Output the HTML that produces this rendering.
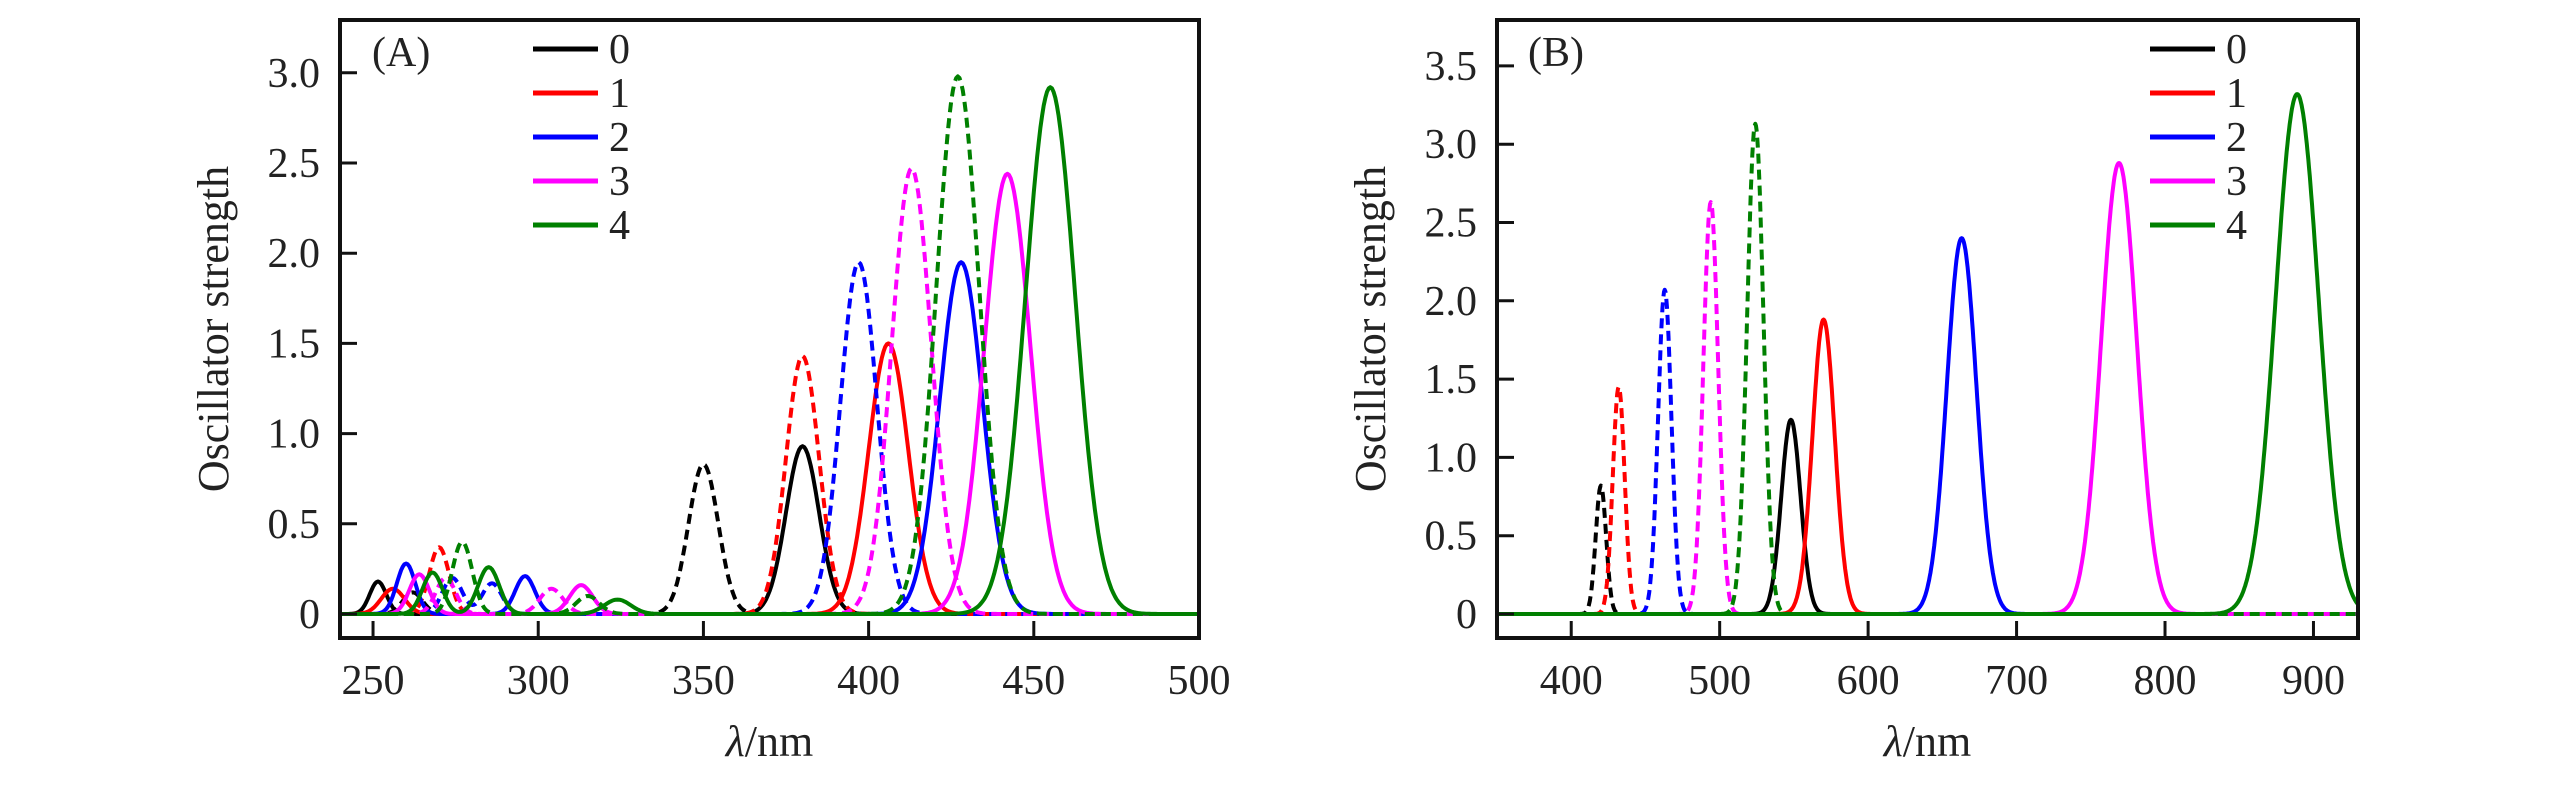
<!DOCTYPE html>
<html><head><meta charset="utf-8">
<style>
html,body{margin:0;padding:0;background:#fff;}
svg{display:block;font-family:"Liberation Serif",serif;}
</style></head>
<body>
<svg id="chart" width="2567" height="787" viewBox="0 0 2567 787" xmlns="http://www.w3.org/2000/svg"></svg>
<script>
const seriesLabels = ["0","1","2","3","4"];
const seriesColors = ["#000000","#ff0000","#0000ff","#ff00ff","#008000"];
// Panel A peaks: [center nm, height, width nm]
const aSolid0 = [[251.5,0.18,2.5],[380,0.93,5]];
const aSolid1 = [[256,0.14,3.5],[406,1.5,6]];
const aSolid2 = [[260,0.28,2.8],[296,0.21,3],[428,1.95,6.5]];
const aSolid3 = [[264,0.22,3],[313,0.16,3.5],[442,2.44,7]];
const aSolid4 = [[268,0.23,3],[285,0.26,3.2],[324,0.08,4],[455,2.92,7.5]];
const aDash0 = [[262,0.12,3],[350,0.83,4.5]];
const aDash1 = [[270,0.37,3],[380,1.43,5]];
const aDash2 = [[274,0.2,3],[286,0.17,3],[397,1.95,5.5]];
const aDash3 = [[272,0.2,3],[304,0.14,3.5],[413,2.47,6]];
const aDash4 = [[277,0.40,3],[315,0.1,3.5],[427,2.98,6.5]];
// Panel B peaks
const bSolid0 = [[548,1.24,6.5]];
const bSolid1 = [[570,1.88,7.5]];
const bSolid2 = [[663,2.4,10]];
const bSolid3 = [[769,2.88,12]];
const bSolid4 = [[889,3.32,14.5]];
const bDash0 = [[420,0.82,3.5]];
const bDash1 = [[432,1.45,4]];
const bDash2 = [[463,2.07,4.5]];
const bDash3 = [[494,2.63,5]];
const bDash4 = [[524,3.13,5.5]];
const aXTicks = [250,300,350,400,450,500];
const aYTicks = [0,0.5,1.0,1.5,2.0,2.5,3.0];
const bXTicks = [400,500,600,700,800,900];
const bYTicks = [0,0.5,1.0,1.5,2.0,2.5,3.0,3.5];

const NS="http://www.w3.org/2000/svg";
const svg=document.getElementById('chart');
function mk(tag,attrs,parent){const e=document.createElementNS(NS,tag);for(const k in attrs)e.setAttribute(k,attrs[k]);(parent||svg).appendChild(e);return e;}

function panel(cfg){
  const g=mk('g',{});
  
  
  const sx=v=>cfg.L+(v-cfg.xmin)/(cfg.xmax-cfg.xmin)*(cfg.R-cfg.L);
  const sy=v=>cfg.y0-v*cfg.ppu;
  const clipId=cfg.name+'-clip';
  const cp=mk('clipPath',{id:clipId},g);
  mk('rect',{x:cfg.L,y:cfg.T,width:cfg.R-cfg.L,height:cfg.B-cfg.T},cp);
  const cg=mk('g',{'clip-path':'url(#'+clipId+')'},g);
  for(let i=0;i<5;i++){
    [['dash',cfg.dash[i]],['solid',cfg.solid[i]]].forEach(([kind,peaks])=>{
      let d='';
      for(let x=cfg.xmin;x<=cfg.xmax+0.01;x+=0.5){
        let y=0;peaks.forEach(p=>{y+=p[1]*Math.exp(-((x-p[0])**2)/(2*p[2]*p[2]));});
        d+=(d?'L':'M')+sx(x).toFixed(1)+' '+sy(y).toFixed(1);
      }
      const p=mk('path',{d:d,fill:'none',stroke:seriesColors[i],'stroke-width':4,'stroke-linejoin':'round'},cg);
      if(kind==='dash')p.setAttribute('stroke-dasharray','10 6');
      
      
    });
  }
  const fr=mk('rect',{x:cfg.L,y:cfg.T,width:cfg.R-cfg.L,height:cfg.B-cfg.T,fill:'none',stroke:'#111','stroke-width':4},g);
  
  
  cfg.xt.forEach(v=>{
    const t=mk('line',{x1:sx(v),x2:sx(v),y1:cfg.B,y2:cfg.B-17,stroke:'#111','stroke-width':3},g);
    
    
    const l=mk('text',{x:sx(v),y:cfg.B+56,'font-size':42,'text-anchor':'middle',fill:'#222'},g);
    l.textContent=v;
    
    
  });
  cfg.yt.forEach(v=>{
    const t=mk('line',{x1:cfg.L,x2:cfg.L+17,y1:sy(v),y2:sy(v),stroke:'#111','stroke-width':3},g);
    
    
    const l=mk('text',{x:cfg.L-20,y:sy(v)+14,'font-size':42,'text-anchor':'end',fill:'#222'},g);
    l.textContent=v===0?'0':v.toFixed(1);
    
    
  });
  const yt=mk('text',{x:0,y:0,'font-size':44,'text-anchor':'middle',fill:'#222',transform:'translate('+cfg.ytx+','+((cfg.T+cfg.B)/2)+') rotate(-90)'},g);
  yt.textContent='Oscillator strength';
  
  
  const xt=mk('text',{x:(cfg.L+cfg.R)/2,y:756,'font-size':44,'text-anchor':'middle',fill:'#222'},g);
  xt.innerHTML='<tspan font-style="italic">λ</tspan>/nm';
  
  
  const pl=mk('text',{x:cfg.plx,y:66,'font-size':42,fill:'#222'},g);
  pl.textContent=cfg.tag;
  
  
  for(let i=0;i<5;i++){
    const y=49+i*44;
    const ll=mk('line',{x1:cfg.lgx,x2:cfg.lgx+65,y1:y,y2:y,stroke:seriesColors[i],'stroke-width':5},g);
    
    
    const lt=mk('text',{x:cfg.lgx+76,y:y+14,'font-size':42,fill:'#222'},g);
    lt.textContent=seriesLabels[i];
    
    
  }
}
panel({name:'panel-a',tag:'(A)',L:340,R:1199,T:20,B:638,xmin:240,xmax:500,y0:614,ppu:180.4,
  solid:[aSolid0,aSolid1,aSolid2,aSolid3,aSolid4],dash:[aDash0,aDash1,aDash2,aDash3,aDash4],
  xt:aXTicks,yt:aYTicks,ytx:228,plx:372,lgx:533});
panel({name:'panel-b',tag:'(B)',L:1497,R:2358,T:20,B:638,xmin:350,xmax:930,y0:614,ppu:156.6,
  solid:[bSolid0,bSolid1,bSolid2,bSolid3,bSolid4],dash:[bDash0,bDash1,bDash2,bDash3,bDash4],
  xt:bXTicks,yt:bYTicks,ytx:1385,plx:1528,lgx:2150});
</script>
</body></html>
